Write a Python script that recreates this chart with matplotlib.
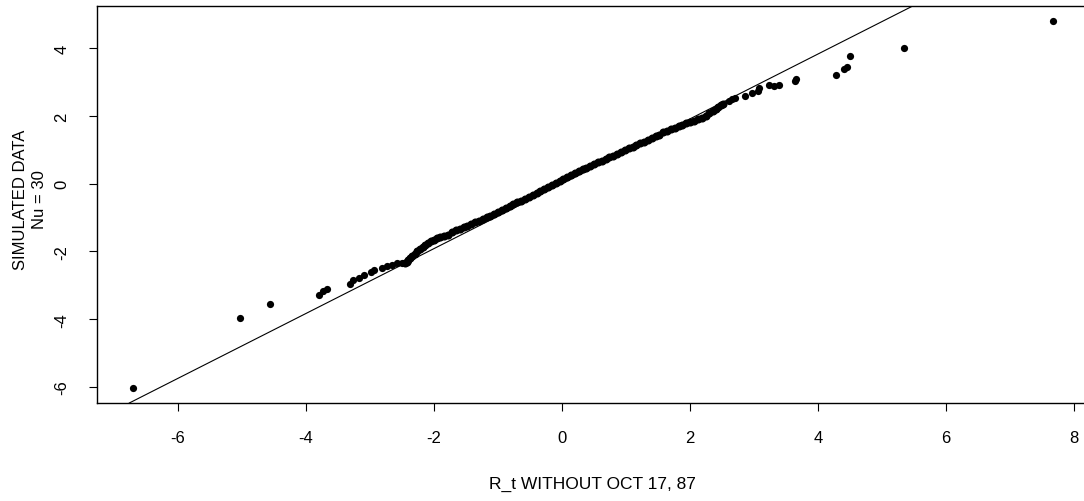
import matplotlib
matplotlib.use("Agg")
import matplotlib.pyplot as plt

plt.rcParams['font.family'] = ['Liberation Sans', 'DejaVu Sans']

# tail points
tail_x = [-6.70, -5.03, -4.57, -3.80, -3.73, -3.68, -3.32, -3.27, -3.18, -3.09,
          -2.98, -2.94, -2.81, -2.74, -2.66, -2.58, -2.50,
          2.60, 2.65, 2.70, 2.86, 2.96, 3.06, 3.08, 3.23, 3.31, 3.39,
          3.64, 3.66, 4.28, 4.40, 4.45, 4.50, 5.34, 7.66]
tail_y = [-6.04, -3.97, -3.56, -3.29, -3.16, -3.10, -2.97, -2.85, -2.79, -2.69,
          -2.62, -2.55, -2.50, -2.43, -2.39, -2.35, -2.33,
          2.45, 2.49, 2.53, 2.59, 2.66, 2.72, 2.82, 2.90, 2.88, 2.92,
          3.02, 3.10, 3.22, 3.37, 3.44, 3.78, 4.01, 4.81]

# dense middle of the sample
body_x = [-2.45, -2.42, -2.40, -2.37, -2.34, -2.30, -2.26, -2.22, -2.18, -2.14,
          -2.10, -2.05, -2.00, -1.95, -1.90, -1.84, -1.78, -1.72, -1.66, -1.60,
          -1.54, -1.48, -1.42, -1.36, -1.30, -1.24, -1.18, -1.12, -1.06, -1.00,
          -0.94, -0.88, -0.82, -0.76, -0.70, -0.64, -0.58, -0.52, -0.46, -0.40,
          -0.34, -0.28, -0.22, -0.16, -0.10, -0.04, 0.02, 0.08, 0.14, 0.20,
          0.26, 0.32, 0.38, 0.44, 0.50, 0.56, 0.62, 0.68, 0.74, 0.80,
          0.86, 0.92, 0.98, 1.04, 1.10, 1.16, 1.22, 1.28, 1.34, 1.40,
          1.46, 1.52, 1.58, 1.64, 1.70, 1.76, 1.82, 1.88, 1.94, 2.00,
          2.06, 2.12, 2.18, 2.24, 2.30, 2.35, 2.40, 2.44, 2.48, 2.52]
body_y = [-2.33, -2.30, -2.25, -2.18, -2.12, -2.06, -2.00, -1.93, -1.86, -1.80,
          -1.74, -1.69, -1.65, -1.61, -1.58, -1.55, -1.50, -1.44, -1.38, -1.33,
          -1.28, -1.24, -1.20, -1.14, -1.09, -1.04, -0.99, -0.94, -0.88, -0.83,
          -0.77, -0.72, -0.66, -0.60, -0.55, -0.50, -0.44, -0.39, -0.33, -0.27,
          -0.21, -0.15, -0.09, -0.03, 0.02, 0.08, 0.13, 0.19, 0.25, 0.31,
          0.36, 0.42, 0.47, 0.53, 0.58, 0.63, 0.68, 0.73, 0.78, 0.83,
          0.88, 0.94, 0.99, 1.04, 1.09, 1.14, 1.19, 1.24, 1.29, 1.34,
          1.40, 1.45, 1.51, 1.56, 1.60, 1.65, 1.69, 1.74, 1.78, 1.82,
          1.86, 1.90, 1.95, 2.01, 2.07, 2.13, 2.19, 2.25, 2.31, 2.36]

line_intercept = 0.0
line_slope = 0.957

xticks = [-6, -4, -2, 0, 2, 4, 6, 8]
yticks = [-6, -4, -2, 0, 2, 4]

fig = plt.figure(figsize=(10.84, 5.02), dpi=100)
# plot region; right edge of the box falls just outside the picture
ax = fig.add_axes([96.7 / 1084, 98 / 502, (1089 - 96.7) / 1084, (404 - 6.7) / 502])

ax.plot(body_x, body_y, 'o', color='black', markersize=5.8, markeredgewidth=0)
ax.plot(tail_x, tail_y, 'o', color='black', markersize=5.2, markeredgewidth=0)
ax.axline((0, line_intercept), slope=line_slope, color='black', linewidth=0.8)

ax.set_xlim(-7.27, 8.23)
ax.set_ylim(-6.47, 5.25)
ax.set_xticks(xticks)
ax.set_yticks(yticks)
ax.set_xticklabels([str(t) for t in xticks])
ax.set_yticklabels([str(t) for t in yticks], rotation=90, va='center')
ax.tick_params(length=6, width=0.8, labelsize=12, pad=13.5)

for s in ax.spines.values():
    s.set_linewidth(1.0)
ax.spines['right'].set_visible(False)

ax.set_xlabel('R_t WITHOUT OCT 17, 87', fontsize=12.5, va='center')
ax.xaxis.set_label_coords(0.5, (404 - 484) / (404 - 6.7))
ax.set_ylabel('SIMULATED DATA\nNu = 30', fontsize=12, va='center', ha='center',
              linespacing=1.3)
ax.yaxis.set_label_coords((30 - 96.7) / (1089 - 96.7), (404 - 200) / (404 - 6.7))

fig.savefig('out.png', dpi=100)
